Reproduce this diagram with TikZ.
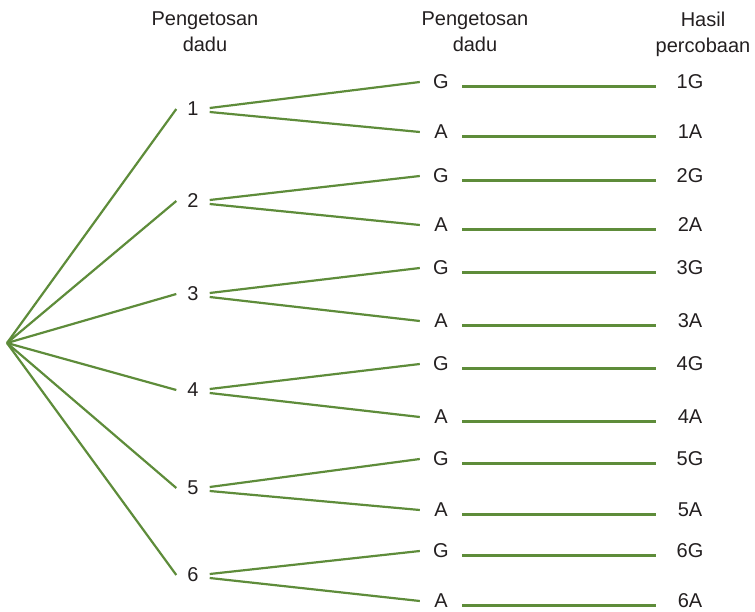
\documentclass[tikz,border=0pt]{standalone}
\usepackage{fontspec}
\setmainfont{Liberation Sans}
\usepackage{tikz}
\definecolor{brGreen}{HTML}{5E8C3A}
\definecolor{txtGray}{HTML}{231F20}

\begin{document}
\begin{tikzpicture}[x=1pt,y=-1pt,every node/.style={font=\fontsize{20}{26}\selectfont,text=txtGray,inner sep=0pt},
    head/.style={align=center},
    num/.style={minimum width=33pt},
    side/.style={minimum width=42pt},
    res/.style={minimum width=68pt},
    branch/.style={brGreen,line width=2.2pt},
    rule/.style={brGreen,line width=3pt}]
  \useasboundingbox (0,0) rectangle (755,612);
  % ---- headers ----
  \node[head] (hd1) at (205,32) {Pengetosan\\dadu};
  \node[head] (hd2) at (475,32) {Pengetosan\\dadu};
  \node[head] (hd3) at (703,34.5) {Hasil\\percobaan};
  % ---- root and first toss (die) ----
  \coordinate (root) at (7,343);
  \node[num] (n1) at (193,109) {1};
  \node[num] (n2) at (193,201) {2};
  \node[num] (n3) at (193,294) {3};
  \node[num] (n4) at (193,390) {4};
  \node[num] (n5) at (193,488) {5};
  \node[num] (n6) at (193,575) {6};
  % ---- second toss (coin) ----
  \node[side] (g1) at (441,82) {G};  \node[side] (a1) at (441,132) {A};
  \node[side] (g2) at (441,176) {G}; \node[side] (a2) at (441,225) {A};
  \node[side] (g3) at (441,268) {G}; \node[side] (a3) at (441,321) {A};
  \node[side] (g4) at (441,364) {G}; \node[side] (a4) at (441,417) {A};
  \node[side] (g5) at (441,459) {G}; \node[side] (a5) at (441,510) {A};
  \node[side] (g6) at (441,551) {G}; \node[side] (a6) at (441,601) {A};
  % ---- outcomes ----
  \node[res] (r1g) at (690,82) {1G};  \node[res] (r1a) at (690,132) {1A};
  \node[res] (r2g) at (690,176) {2G}; \node[res] (r2a) at (690,225) {2A};
  \node[res] (r3g) at (690,268) {3G}; \node[res] (r3a) at (690,321) {3A};
  \node[res] (r4g) at (690,364) {4G}; \node[res] (r4a) at (690,417) {4A};
  \node[res] (r5g) at (690,459) {5G}; \node[res] (r5a) at (690,510) {5A};
  \node[res] (r6g) at (690,551) {6G}; \node[res] (r6a) at (690,601) {6A};
  % ---- root connectors ----
  \draw[branch] (root)--(n1.west); \draw[branch] (root)--(n2.west); \draw[branch] (root)--(n3.west);
  \draw[branch] (root)--(n4.west); \draw[branch] (root)--(n5.west); \draw[branch] (root)--(n6.west);
  % ---- die to coin ----
  \draw[branch] ([yshift=1pt]n1.east)--(g1.west); \draw[branch] ([yshift=-3pt]n1.east)--(a1.west);
  \draw[branch] ([yshift=1pt]n2.east)--(g2.west); \draw[branch] ([yshift=-3pt]n2.east)--(a2.west);
  \draw[branch] ([yshift=1pt]n3.east)--(g3.west); \draw[branch] ([yshift=-3pt]n3.east)--(a3.west);
  \draw[branch] ([yshift=1pt]n4.east)--(g4.west); \draw[branch] ([yshift=-3pt]n4.east)--(a4.west);
  \draw[branch] ([yshift=1pt]n5.east)--(g5.west); \draw[branch] ([yshift=-3pt]n5.east)--(a5.west);
  \draw[branch] ([yshift=1pt]n6.east)--(g6.west); \draw[branch] ([yshift=-3pt]n6.east)--(a6.west);
  % ---- coin to outcome ----
  \draw[rule] ([yshift=-4.5pt]g1.east)--([yshift=-4.5pt]r1g.west); \draw[rule] ([yshift=-4.5pt]a1.east)--([yshift=-4.5pt]r1a.west);
  \draw[rule] ([yshift=-4.5pt]g2.east)--([yshift=-4.5pt]r2g.west); \draw[rule] ([yshift=-4.5pt]a2.east)--([yshift=-4.5pt]r2a.west);
  \draw[rule] ([yshift=-4.5pt]g3.east)--([yshift=-4.5pt]r3g.west); \draw[rule] ([yshift=-4.5pt]a3.east)--([yshift=-4.5pt]r3a.west);
  \draw[rule] ([yshift=-4.5pt]g4.east)--([yshift=-4.5pt]r4g.west); \draw[rule] ([yshift=-4.5pt]a4.east)--([yshift=-4.5pt]r4a.west);
  \draw[rule] ([yshift=-4.5pt]g5.east)--([yshift=-4.5pt]r5g.west); \draw[rule] ([yshift=-4.5pt]a5.east)--([yshift=-4.5pt]r5a.west);
  \draw[rule] ([yshift=-4.5pt]g6.east)--([yshift=-4.5pt]r6g.west); \draw[rule] ([yshift=-4.5pt]a6.east)--([yshift=-4.5pt]r6a.west);
\end{tikzpicture}
\end{document}
